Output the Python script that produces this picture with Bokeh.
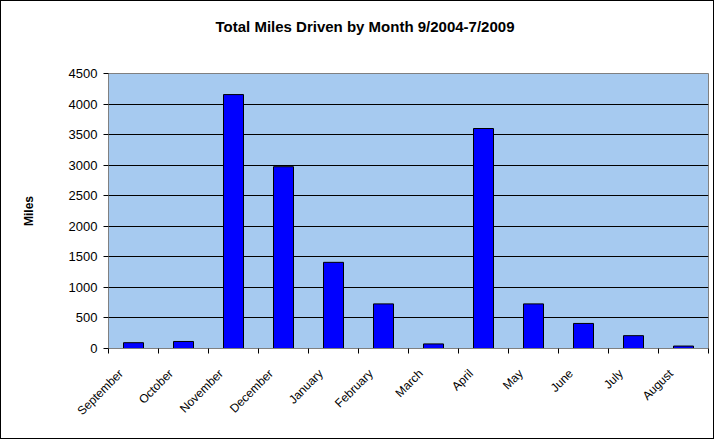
import math
from bokeh.plotting import figure
from bokeh.models import ColumnDataSource, FixedTicker, Range1d, LinearAxis
from bokeh.embed import file_html
from bokeh.resources import INLINE

months = ["September", "October", "November", "December", "January", "February",
          "March", "April", "May", "June", "July", "August"]
miles = [95, 115, 4155, 2975, 1410, 730, 75, 3600, 730, 410, 210, 40]
y_ticks = [0, 500, 1000, 1500, 2000, 2500, 3000, 3500, 4000, 4500]
title_text = "Total Miles Driven by Month 9/2004-7/2009"
y_label = "Miles"

xpos = [i + 0.5 for i in range(len(months))]
label_pos = [x - 0.25 for x in xpos]
src = ColumnDataSource(dict(x=xpos, top=miles, month=months))

p = figure(width=714, height=439, output_backend="svg", toolbar_location=None,
           x_range=Range1d(0, len(months)), y_range=Range1d(0, 4500),
           min_border_left=107, min_border_right=7, min_border_top=72,
           min_border_bottom=92)
p.styles = {"border": "1px solid black"}
p.background_fill_color = "#A6CAF0"
p.border_fill_color = "white"
p.outline_line_color = "#808080"

p.vbar(x="x", top="top", width=0.4, bottom=0, source=src,
       fill_color="#0000FF", line_color="black", line_width=1)

# invisible spacer between title and plot area
spacer = LinearAxis(ticker=FixedTicker(ticks=[6]), major_tick_out=34, major_tick_in=0,
                    minor_tick_out=0, minor_tick_in=0, axis_line_color=None,
                    major_tick_line_color=None, minor_tick_line_color=None,
                    major_label_overrides={6: ""}, major_label_standoff=0)
p.add_layout(spacer, "above")

p.title.text = title_text
p.title.align = "left"
p.title.offset = 107
p.title.standoff = 10
p.title.text_font = "Liberation Sans"
p.title.text_font_size = "15px"
p.title.text_font_style = "bold"
p.title.text_color = "black"

yax = p.yaxis[0]
yax.ticker = FixedTicker(ticks=y_ticks)
yax.axis_label = y_label
yax.axis_label_text_font = "Liberation Sans"
yax.axis_label_text_font_size = "12px"
yax.axis_label_text_font_style = "bold"
yax.axis_label_text_color = "black"
yax.axis_label_standoff = 30
yax.major_label_text_font = "Liberation Sans"
yax.major_label_text_font_size = "13px"
yax.major_label_text_color = "black"
yax.major_tick_out = 5
yax.major_tick_in = 0
yax.minor_tick_out = 0
yax.minor_tick_in = 0
yax.major_label_standoff = 6
yax.axis_line_color = "#808080"
yax.major_tick_line_color = "black"

xax = p.below[0]
xax.ticker = FixedTicker(ticks=label_pos, minor_ticks=list(range(len(months) + 1)))
xax.major_label_overrides = {x: m for x, m in zip(label_pos, months)}
xax.major_label_orientation = math.pi / 4
xax.major_label_text_font = "Liberation Sans"
xax.major_label_text_font_size = "12px"
xax.major_label_text_color = "black"
xax.major_label_standoff = 18
xax.major_tick_out = 0
xax.major_tick_in = 0
xax.minor_tick_out = 5
xax.minor_tick_in = 0
xax.minor_tick_line_color = "black"
xax.axis_line_color = "#808080"

p.xgrid.grid_line_color = None
p.ygrid.grid_line_color = "black"
p.ygrid.grid_line_width = 1

html = file_html(p, INLINE)
html = html.replace("<body>", '<body style="background:#FFFDE8">', 1)
open("out.html", "w").write(html)
